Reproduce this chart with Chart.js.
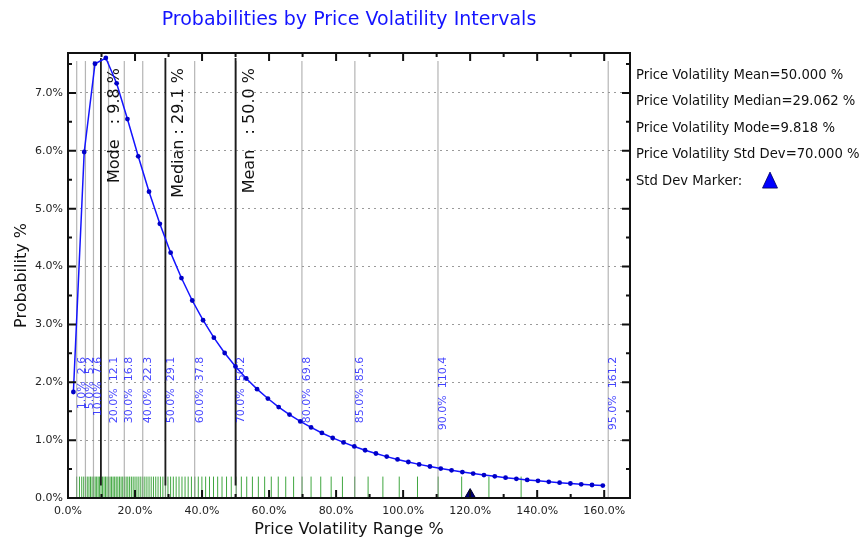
<!DOCTYPE html>
<html>
<head>
<meta charset="utf-8">
<title>Probabilities by Price Volatility Intervals</title>
<script src="https://cdn.jsdelivr.net/npm/chart.js@4.4.1/dist/chart.umd.min.js"></script>
<style>
  html, body { margin: 0; padding: 0; background: #ffffff; }
  #wrap { width: 865px; height: 540px; }
</style>
</head>
<body>
<div id="wrap"><canvas id="c" width="865" height="540"></canvas></div>
<script>
// Bin centres of the volatility histogram (% volatility)
const binCenters = [
  1.612, 4.836, 8.060, 11.284, 14.508, 17.732, 20.956, 24.180, 27.404, 30.628,
  33.852, 37.076, 40.300, 43.524, 46.748, 49.972, 53.196, 56.420, 59.644, 62.868,
  66.092, 69.316, 72.540, 75.764, 78.988, 82.212, 85.436, 88.660, 91.884, 95.108,
  98.332, 101.556, 104.780, 108.004, 111.228, 114.452, 117.676, 120.900, 124.124, 127.348,
  130.572, 133.796, 137.020, 140.244, 143.468, 146.692, 149.916, 153.140, 156.364, 159.588
];
// Probability of each bin (%)
const binProbabilities = [
  1.832, 5.979, 7.504, 7.604, 7.166, 6.549, 5.905, 5.294, 4.738, 4.240,
  3.801, 3.413, 3.072, 2.771, 2.506, 2.273, 2.065, 1.881, 1.719, 1.571,
  1.442, 1.324, 1.219, 1.124, 1.038, 0.961, 0.891, 0.825, 0.769, 0.715,
  0.667, 0.622, 0.581, 0.544, 0.509, 0.478, 0.448, 0.422, 0.396, 0.374,
  0.352, 0.332, 0.313, 0.296, 0.280, 0.265, 0.251, 0.237, 0.225, 0.214
];
// Percentile levels and the volatility at each level
const percentileLevels = [1, 5, 10, 20, 30, 40, 50, 60, 70, 80, 85, 90, 95];
const percentileValues = [2.6, 5.2, 7.6, 12.1, 16.8, 22.3, 29.1, 37.8, 50.2, 69.8, 85.6, 110.4, 161.2];
// Rug of sample volatilities along the bottom axis
const rugValues = [
  2.58, 3.42, 4.10, 4.69, 5.24, 5.75, 6.25, 6.72, 7.19, 7.65,
  8.10, 8.55, 8.99, 9.43, 9.87, 10.31, 10.76, 11.20, 11.65, 12.09,
  12.55, 13.00, 13.46, 13.92, 14.39, 14.87, 15.35, 15.84, 16.33, 16.83,
  17.34, 17.85, 18.38, 18.91, 19.45, 20.00, 20.57, 21.14, 21.72, 22.32,
  22.93, 23.55, 24.18, 24.83, 25.50, 26.18, 26.87, 27.58, 28.31, 29.06,
  29.83, 30.62, 31.43, 32.27, 33.13, 34.01, 34.93, 35.86, 36.83, 37.84,
  38.88, 39.95, 41.07, 42.22, 43.42, 44.66, 45.96, 47.31, 48.72, 50.19,
  51.73, 53.33, 55.03, 56.80, 58.68, 60.66, 62.74, 64.97, 67.32, 69.84,
  72.53, 75.42, 78.53, 81.89, 85.55, 89.55, 93.96, 98.84, 104.29, 110.45,
  117.47, 125.60, 135.21
];
// Summary statistics (%)
const statNames = ['Mode', 'Median', 'Mean'];
const statValues = [9.818, 29.062, 50.000];
const volMean = 50.000;
const volMedian = 29.062;
const volMode = 9.818;
const volStdDev = 70.000;
// Axis tick labels
const xTickValues = [0, 20, 40, 60, 80, 100, 120, 140, 160];
const yTickValues = [0, 1, 2, 3, 4, 5, 6, 7];

const FONT = 'DejaVu Sans';
Chart.defaults.font.family = FONT;

const curvePoints = binCenters.map((x, i) => ({ x, y: binProbabilities[i] }));
const markerPoints = [{ x: volMean + volStdDev, y: 0.05 }];

const legendLines = [
  'Price Volatility Mean=' + volMean.toFixed(3) + ' %',
  'Price Volatility Median=' + volMedian.toFixed(3) + ' %',
  'Price Volatility Mode=' + volMode.toFixed(3) + ' %',
  'Price Volatility Std Dev=' + volStdDev.toFixed(3) + ' %',
  'Std Dev Marker:'
];

// Reference lines, rug and their labels, drawn under the curve
const backdrop = {
  id: 'backdrop',
  beforeDatasetsDraw(chart) {
    const { ctx, scales: { x, y } } = chart;
    const y0 = y.getPixelForValue(0);
    ctx.save();

    // rug
    ctx.strokeStyle = 'rgba(30,150,30,0.85)';
    ctx.lineWidth = 1;
    const rugTop = y.getPixelForValue(0.37);
    ctx.beginPath();
    rugValues.forEach(v => {
      const px = x.getPixelForValue(v);
      ctx.moveTo(px, y0);
      ctx.lineTo(px, rugTop);
    });
    ctx.stroke();

    // percentile lines
    ctx.strokeStyle = 'rgba(150,150,150,0.7)';
    ctx.lineWidth = 1.2;
    const pTop = y.getPixelForValue(7.55);
    ctx.beginPath();
    percentileValues.forEach(v => {
      const px = x.getPixelForValue(v);
      ctx.moveTo(px, y0);
      ctx.lineTo(px, pTop);
    });
    ctx.stroke();

    // mode / median / mean lines span the range of the curve
    const lo = y.getPixelForValue(Math.min(...binProbabilities));
    const hi = y.getPixelForValue(Math.max(...binProbabilities));
    ctx.strokeStyle = '#1c1c1c';
    ctx.lineWidth = 1.8;
    ctx.beginPath();
    statValues.forEach(v => {
      const px = x.getPixelForValue(v);
      ctx.moveTo(px, lo);
      ctx.lineTo(px, hi);
    });
    ctx.stroke();

    // percentile labels, rotated
    ctx.fillStyle = 'rgba(20,20,255,0.8)';
    ctx.font = '11px "' + FONT + '"';
    ctx.textAlign = 'right';
    ctx.textBaseline = 'alphabetic';
    const labelEnd = y.getPixelForValue(2.44);
    percentileValues.forEach((v, i) => {
      const px = x.getPixelForValue(v);
      ctx.save();
      ctx.translate(px + 8, labelEnd);
      ctx.rotate(-Math.PI / 2);
      ctx.fillText(percentileLevels[i].toFixed(1) + '%  ' + v.toFixed(1), 0, 0);
      ctx.restore();
    });

    // statistic labels, rotated
    ctx.fillStyle = '#111111';
    ctx.font = '16px "' + FONT + '"';
    const statEnd = y.getPixelForValue(7.43);
    statValues.forEach((v, i) => {
      const px = x.getPixelForValue(v);
      ctx.save();
      ctx.translate(px + 18, statEnd);
      ctx.rotate(-Math.PI / 2);
      ctx.fillText(statNames[i].padEnd(6) + ' : ' + v.toFixed(1) + ' %', 0, 0);
      ctx.restore();
    });

    ctx.restore();
  }
};

// Box frame, inward tick marks and the side legend
const frame = {
  id: 'frame',
  afterDraw(chart) {
    const { ctx, chartArea: a, scales: { x, y } } = chart;
    ctx.save();
    ctx.strokeStyle = '#111111';
    ctx.lineWidth = 2;
    ctx.strokeRect(a.left, a.top, a.right - a.left, a.bottom - a.top);

    ctx.beginPath();
    for (let v = 0; v <= xTickValues[xTickValues.length - 1]; v += 10) {
      const px = x.getPixelForValue(v);
      const len = v % 20 === 0 ? 8 : 4;
      ctx.moveTo(px, a.bottom); ctx.lineTo(px, a.bottom - len);
      ctx.moveTo(px, a.top); ctx.lineTo(px, a.top + len);
    }
    for (let v = 0; v <= 7.5; v += 0.5) {
      const py = y.getPixelForValue(v);
      const len = Number.isInteger(v) ? 8 : 4;
      ctx.moveTo(a.left, py); ctx.lineTo(a.left + len, py);
      ctx.moveTo(a.right, py); ctx.lineTo(a.right - len, py);
    }
    ctx.stroke();

    // side legend
    ctx.fillStyle = '#111111';
    ctx.font = '13.2px "' + FONT + '"';
    ctx.textAlign = 'left';
    ctx.textBaseline = 'middle';
    const lx = a.right + 6;
    const ly0 = a.top + 22.5;
    const step = 26.4;
    legendLines.forEach((t, i) => ctx.fillText(t, lx, ly0 + i * step));

    // triangle sample for the marker entry
    const tx = lx + 134, ty = ly0 + 4 * step;
    ctx.beginPath();
    ctx.moveTo(tx, ty - 9);
    ctx.lineTo(tx + 7.5, ty + 7);
    ctx.lineTo(tx - 7.5, ty + 7);
    ctx.closePath();
    ctx.fillStyle = '#0000ff';
    ctx.fill();
    ctx.strokeStyle = '#00005a';
    ctx.lineWidth = 0.8;
    ctx.stroke();

    ctx.restore();
  }
};

new Chart(document.getElementById('c'), {
  type: 'scatter',
  data: {
    datasets: [
      {
        label: 'Probability',
        data: curvePoints,
        showLine: true,
        borderColor: '#1414ff',
        borderWidth: 1.5,
        pointRadius: 2.4,
        pointBackgroundColor: '#0000c8',
        pointBorderColor: '#0000c8',
        pointBorderWidth: 0,
        tension: 0
      },
      {
        label: 'Std Dev Marker',
        data: markerPoints,
        showLine: false,
        pointStyle: 'triangle',
        pointRadius: 6.5,
        pointBackgroundColor: '#00007a',
        pointBorderColor: '#000030',
        pointBorderWidth: 1,
        clip: false
      }
    ]
  },
  options: {
    responsive: false,
    animation: false,
    devicePixelRatio: 1,
    layout: { padding: { left: 0, right: 235, top: 0, bottom: 0 } },
    plugins: {
      legend: { display: false },
      tooltip: { enabled: false },
      title: {
        display: true,
        text: 'Probabilities by Price Volatility Intervals',
        color: '#1414ff',
        fullSize: false,
        font: { size: 19, weight: 'normal' },
        padding: { top: 9, bottom: 21.2 }
      }
    },
    scales: {
      x: {
        type: 'linear',
        min: 0,
        max: 167.7,
        afterBuildTicks: s => { s.ticks = xTickValues.map(v => ({ value: v })); },
        afterFit: s => { s.height = 42; },
        grid: { display: false },
        border: { display: false },
        ticks: {
          color: '#222222',
          font: { size: 11 },
          padding: -1,
          maxRotation: 0,
          autoSkip: false,
          callback: v => Number(v).toFixed(1) + '%'
        },
        title: {
          display: true,
          text: 'Price Volatility Range %',
          color: '#111111',
          font: { size: 16 },
          padding: { top: 0.6, bottom: 0.6 }
        }
      },
      y: {
        min: 0,
        max: 7.69,
        afterBuildTicks: s => { s.ticks = yTickValues.map(v => ({ value: v })); },
        afterFit: s => { s.width = 68; },
        grid: {
          color: c => (c.tick && c.tick.value === 0) ? 'rgba(0,0,0,0)' : '#9a9a9a',
          lineWidth: 1,
          drawTicks: false
        },
        border: { display: false, dash: [2, 4] },
        ticks: {
          color: '#222222',
          font: { size: 11 },
          padding: 5,
          callback: v => Number(v).toFixed(1) + '%'
        },
        title: {
          display: true,
          text: 'Probability %',
          color: '#111111',
          font: { size: 16 },
          padding: { top: 12, bottom: 12 }
        }
      }
    }
  },
  plugins: [backdrop, frame]
});
</script>
</body>
</html>
